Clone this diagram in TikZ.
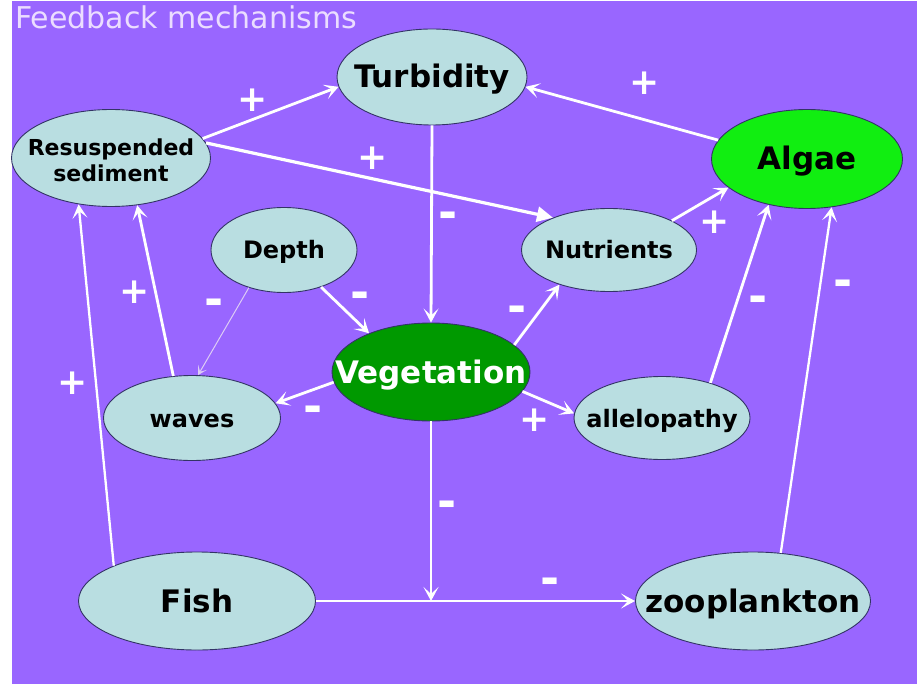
\documentclass[tikz,border=0pt]{standalone}
\usepackage{fontspec}
\setmainfont{DejaVu Sans}
\usetikzlibrary{shapes.geometric,arrows.meta}
\definecolor{bg}{HTML}{9966FF}
\definecolor{nodefill}{HTML}{B9DEE1}
\definecolor{algaegreen}{HTML}{11EE11}
\definecolor{veggreen}{HTML}{009900}
\definecolor{rimcol}{HTML}{333366}
\definecolor{titlecol}{HTML}{EBDDFF}
\definecolor{thinline}{HTML}{DDCCF5}
\begin{document}
\begin{tikzpicture}[x=1pt,y=-1pt,
  ell/.style={ellipse, draw=rimcol, line width=0.9pt, fill=nodefill, inner sep=0pt, text=black, text depth=0pt},
  big/.style={font=\fontsize{31}{36}\selectfont\bfseries, text height=22pt},
  mid/.style={font=\fontsize{24}{28}\selectfont\bfseries, text height=18pt},
  small/.style={font=\fontsize{22}{27}\selectfont\bfseries, text height=21pt},
  arr/.style={draw=white, line width=2.8pt, -{Stealth[length=14pt,width=15pt,inset=7pt]}},
  plus/.style={text=white, font=\fontsize{36}{36}\selectfont\bfseries, inner sep=0pt},
  minus/.style={text=white, font=\fontsize{46}{46}\selectfont\bfseries, inner sep=0pt, yshift=-7pt}]
\fill[white] (0,0) rectangle (917,684);
\fill[bg] (12,1) rectangle (917,684);
\useasboundingbox (0,0) rectangle (917,684);

\node[text=titlecol, font=\fontsize{30}{30}\selectfont, anchor=base west, inner sep=0pt] (title) at (15,29) {Feedback mechanisms};

\node[ell, big, minimum width=190pt, minimum height=96pt] (turb) at (432,77) {\makebox[0pt]{Turbidity}};
\node[ell, small, minimum width=199pt, minimum height=97pt] (res) at (111,158) {\makebox[0pt]{\begin{tabular}{@{}c@{}}Resuspended\\[-1pt]sediment\end{tabular}}};
\node[ell, big, fill=algaegreen, minimum width=191pt, minimum height=99pt] (algae) at (807,159) {\makebox[0pt]{Algae}};
\node[ell, mid, minimum width=146pt, minimum height=85pt] (depth) at (284,250) {\makebox[0pt]{Depth}};
\node[ell, mid, minimum width=175pt, minimum height=83pt] (nut) at (609,250) {\makebox[0pt]{Nutrients}};
\node[ell, big, fill=veggreen, text=white, minimum width=198pt, minimum height=98pt] (veg) at (431,372) {\makebox[0pt]{Vegetation}};
\node[ell, mid, minimum width=177pt, minimum height=85pt] (waves) at (192,418) {\makebox[0pt]{waves}};
\node[ell, mid, minimum width=176pt, minimum height=83pt] (allel) at (662,418) {\makebox[0pt]{allelopathy}};
\node[ell, big, minimum width=237pt, minimum height=98pt] (fish) at (197,601) {\makebox[0pt]{Fish}};
\node[ell, big, minimum width=235pt, minimum height=98pt] (zoo) at (753,601) {\makebox[0pt]{zooplankton}};

\draw[arr] (res.12) -- (turb.186);
\draw[arr, line width=3.2pt, -{Triangle[length=16pt,width=15pt]}] (res.9) -- (nut.150);
\draw[arr] (algae.168) -- (turb.354);
\draw[arr] (turb.south) -- (veg.north);
\draw[arr] (nut.25) -- (algae.200);
\draw[arr] (depth.315) -- (veg.148);
\draw[draw=thinline, line width=1pt, -{Stealth[length=9pt,width=10pt,inset=5pt]}] (depth.227) -- (waves.82);
\draw[arr] (veg.18) -- (nut.215);
\draw[arr] (veg.186) -- (waves.10);
\draw[arr] (veg.348) -- (allel.177);
\draw[arr] (allel.36) -- (algae.230);
\draw[arr, line width=2.3pt] (zoo.60) -- (algae.297);
\draw[arr] (waves.114) -- (res.299);
\draw[arr, line width=2.3pt] (fish.157) -- (res.235);
\draw[arr, line width=2.3pt] (fish.east) -- (zoo.west);
\coordinate (j) at (veg.south |- fish.east);
\draw[arr, line width=1.8pt] (veg.south) -- (j);

\node[plus] (p1) at (253,100) {+};
\node[plus] (p2) at (373,158) {+};
\node[plus] (p3) at (645,83) {+};
\node[minus] (m1) at (448,213) {-};
\node[plus] (p4) at (715,222) {+};
\node[minus] (m2) at (360,293) {-};
\node[minus] (m3) at (214,300) {-};
\node[minus] (m4) at (517,307) {-};
\node[minus] (m5) at (313,407) {-};
\node[plus] (p5) at (535,420) {+};
\node[minus] (m6) at (758,297) {-};
\node[minus] (m7) at (843,281) {-};
\node[plus] (p6) at (135,292) {+};
\node[plus] (p7) at (73,383) {+};
\node[minus] (m8) at (550,579) {-};
\node[minus] (m9) at (447,502) {-};
\end{tikzpicture}
\end{document}
